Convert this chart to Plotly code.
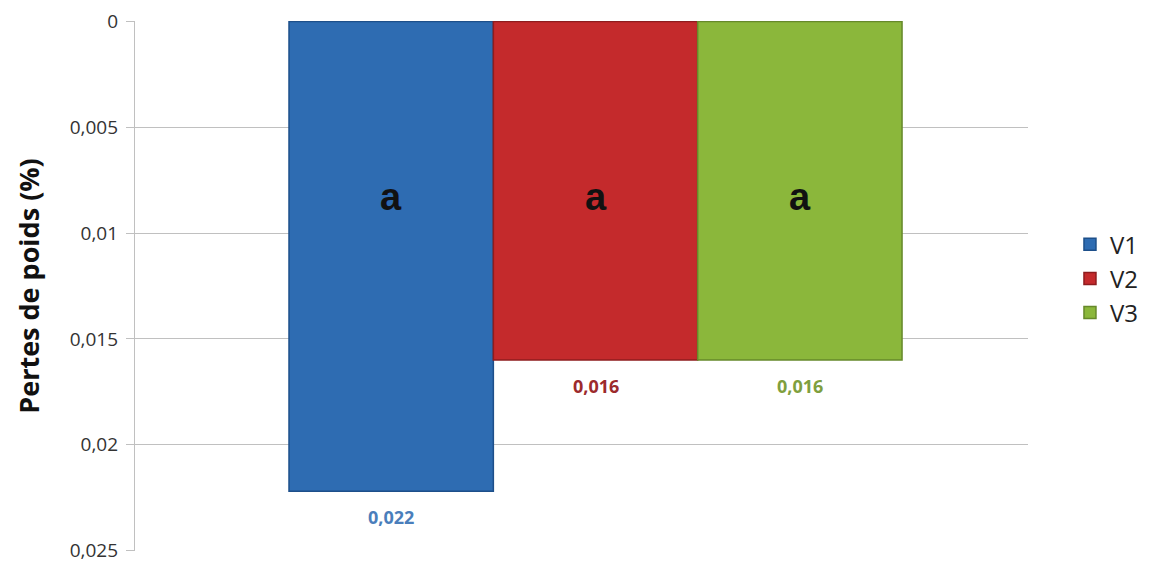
import plotly.graph_objects as go

series = ["V1", "V2", "V3"]
losses = [0.0222, 0.016, 0.016]
letters = ["a", "a", "a"]
letter_level = 0.0083
colors = ["#2e6cb2", "#c42a2c", "#8bb73b"]
edge_colors = ["#1d4f8a", "#8e1c1e", "#66892a"]
label_colors = ["#4a7ebb", "#9c2a2c", "#7f9f3e"]

bargap = 0.3135
group_w = 1 - bargap
bar_w = group_w / len(series)

fig = go.Figure()
for i, name in enumerate(series):
    xc = -group_w / 2 + bar_w * (i + 0.5)
    fig.add_trace(
        go.Bar(
            name=name,
            x=[""],
            y=[losses[i]],
            marker=dict(color=colors[i], line=dict(color=edge_colors[i], width=1.5)),
        )
    )
    fig.add_annotation(
        x=xc,
        y=letter_level,
        text="<b>" + letters[i] + "</b>",
        showarrow=False,
        font=dict(family="Liberation Sans, Arial, sans-serif", size=38, color="#111111"),
    )
    # value label under the bar end
    fig.add_annotation(
        x=xc,
        y=losses[i],
        text="<b>" + f"{losses[i]:.3f}".replace(".", ",") + "</b>",
        showarrow=False,
        yanchor="top",
        yshift=-12,
        font=dict(family="Open Sans", size=18, color=label_colors[i]),
    )

fig.update_layout(
    width=1162,
    height=568,
    barmode="group",
    bargap=bargap,
    bargroupgap=0,
    separators=", ",
    paper_bgcolor="white",
    plot_bgcolor="white",
    margin=dict(l=127, r=142, t=13, b=25),
    font=dict(family="Open Sans", color="#333333"),
    xaxis=dict(
        range=[-0.5157, 0.4843],
        showticklabels=False,
        showgrid=False,
        ticks="",
        automargin=False,
    ),
    yaxis=dict(
        range=[0.02502, -0.00002],
        tick0=0,
        dtick=0.005,
        automargin=False,
        showgrid=True,
        gridcolor="#c0c0c0",
        gridwidth=1.3,
        zeroline=False,
        showline=True,
        linecolor="#c0c0c0",
        linewidth=1.3,
        ticks="outside",
        ticklen=8,
        tickcolor="#c0c0c0",
        ticklabelstandoff=4,
        ticklabeloverflow="allow",
        tickfont=dict(size=19, color="#333333"),
        title=dict(
            text="<b>Pertes de poids (%)</b>",
            font=dict(size=27, color="#111111"),
            standoff=22,
        ),
    ),
    legend=dict(
        x=1.047,
        y=0.514,
        yanchor="middle",
        font=dict(size=24, color="#222222"),
        itemwidth=30,
        tracegroupgap=2,
    ),
)

fig.write_html("out.html")
